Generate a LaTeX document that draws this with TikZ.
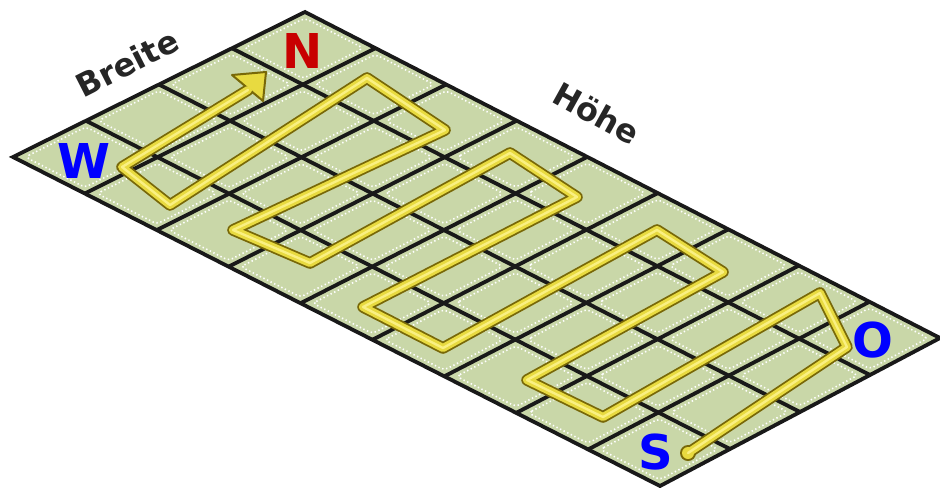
\documentclass[tikz,border=0pt]{standalone}
\usepackage{fontspec}
\setmainfont{DejaVu Sans}
\usetikzlibrary{calc}
\definecolor{field}{RGB}{201,215,168}
\definecolor{routefill}{RGB}{232,218,64}
\definecolor{routeedge}{RGB}{120,104,8}
\definecolor{routelight}{RGB}{250,240,130}
\definecolor{nred}{RGB}{200,0,0}
\definecolor{dirblue}{RGB}{0,0,255}
\begin{document}
\begin{tikzpicture}[x=0.5pt,y=-0.5pt,
  gridline/.style={line width=1.9pt, black!90, line join=miter},
  celldots/.style={white, line width=0.8pt, dash pattern=on 0.7pt off 1.3pt, rounded corners=2pt},
  dirlabel/.style={font=\bfseries\fontsize{24}{24}\selectfont, inner sep=0pt},
  axislabel/.style={font=\bfseries\fontsize{16}{16}\selectfont, inner sep=0pt, text=black!85},
  routeout/.style={line width=5.8pt, routeedge, line join=round, line cap=round},
  routein/.style={line width=4pt, routefill, line join=round, line cap=round},
  routehi/.style={line width=1.2pt, routelight, line join=round, line cap=round}
]
\useasboundingbox (0,0) rectangle (940,487);
% field corners
\coordinate (W) at (13,157);
\coordinate (N) at (305,12);
\coordinate (E) at (940,338);
\coordinate (S) at (660,486);
\fill[field] (W) -- (N) -- (E) -- (S) -- cycle;
% dotted cell outlines
\foreach \i in {0,...,3}{
  \foreach \j in {0,...,8}{
    \pgfmathsetmacro\gal{(\i+0.085)/4}
    \pgfmathsetmacro\gah{(\i+0.915)/4}
    \pgfmathsetmacro\gbl{(\j+0.085)/9}
    \pgfmathsetmacro\gbh{(\j+0.915)/9}
    \draw[celldots]
      ($($(W)!\gal!(N)$)!\gbl!($(S)!\gal!(E)$)$) --
      ($($(W)!\gah!(N)$)!\gbl!($(S)!\gah!(E)$)$) --
      ($($(W)!\gah!(N)$)!\gbh!($(S)!\gah!(E)$)$) --
      ($($(W)!\gal!(N)$)!\gbh!($(S)!\gal!(E)$)$) -- cycle;
  }
}
% grid lines
\foreach \i in {1,...,3}{
  \pgfmathsetmacro\ga{\i/4}
  \draw[gridline] ($(W)!\ga!(N)$) -- ($(S)!\ga!(E)$);
}
\foreach \j in {1,...,8}{
  \pgfmathsetmacro\gb{\j/9}
  \draw[gridline] ($(W)!\gb!(S)$) -- ($(N)!\gb!(E)$);
}
\draw[gridline] (W) -- (N) -- (E) -- (S) -- cycle;
% route
\coordinate (p0) at (688,453);
\coordinate (p1) at (847,347);
\coordinate (p2) at (820,293);
\coordinate (p3) at (603,417);
\coordinate (p4) at (527,380);
\coordinate (p5) at (723,272);
\coordinate (p6) at (657,230);
\coordinate (p7) at (443,348);
\coordinate (p8) at (363,307);
\coordinate (p9) at (577,197);
\coordinate (p10) at (510,153);
\coordinate (p11) at (310,263);
\coordinate (p12) at (233,230);
\coordinate (p13) at (445,130);
\coordinate (p14) at (367,78);
\coordinate (p15) at (170,205);
\coordinate (p16) at (122,167);
\coordinate (p17) at (248,90);
\coordinate (h1) at (232,75);
\coordinate (h2) at (266,72);
\coordinate (h3) at (263,101);
\draw[routeout] (p0) -- (p1) -- (p2) -- (p3) -- (p4) -- (p5) -- (p6) -- (p7) -- (p8) -- (p9) -- (p10) -- (p11) -- (p12) -- (p13) -- (p14) -- (p15) -- (p16) -- (p17);
\fill[routeedge] (p0) circle (8);
\filldraw[fill=routefill, draw=routeedge, line width=1pt, line join=round] (h1) -- (h2) -- (h3) -- cycle;
\draw[routein] (p0) -- (p1) -- (p2) -- (p3) -- (p4) -- (p5) -- (p6) -- (p7) -- (p8) -- (p9) -- (p10) -- (p11) -- (p12) -- (p13) -- (p14) -- (p15) -- (p16) -- (p17);
\fill[routefill] (p0) circle (6);
\draw[routehi] (p0) -- (p1) -- (p2) -- (p3) -- (p4) -- (p5) -- (p6) -- (p7) -- (p8) -- (p9) -- (p10) -- (p11) -- (p12) -- (p13) -- (p14) -- (p15) -- (p16) -- (p17);
% labels
\node[dirlabel, text=nred] (lN) at (303,51) {N};
\node[dirlabel, text=dirblue] (lW) at (84,161) {W};
\node[dirlabel, text=dirblue] (lO) at (873,340) {O};
\node[dirlabel, text=dirblue] (lS) at (656,452) {S};
\node[axislabel, rotate=27] (lB) at (127,63) {Breite};
\node[axislabel, rotate=-29] (lH) at (597,113) {Höhe};
\end{tikzpicture}
\end{document}
